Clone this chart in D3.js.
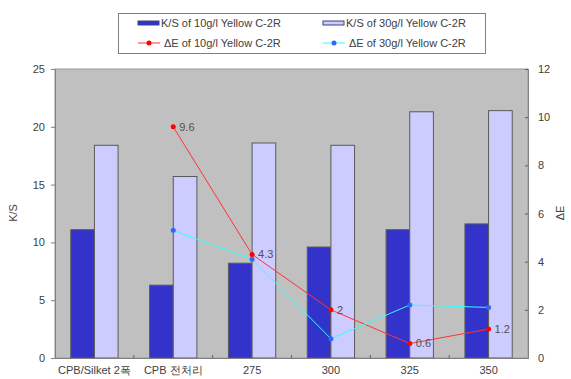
<!DOCTYPE html>
<html>
<head>
<meta charset="utf-8">
<script src="https://cdn.jsdelivr.net/npm/d3@7"></script>
<style>
  html, body { margin: 0; padding: 0; background: #fff; }
  svg { display: block; font-family: "Liberation Sans", Arial, "Noto Sans CJK KR", sans-serif; }
</style>
</head>
<body>
<svg id="chart" width="571" height="379"></svg>
<script>
// Conditions along the x axis
const categories = ["CPB/Silket 2폭", "CPB 전처리", "275", "300", "325", "350"];

// K/S values (left axis)
const ks10 = [11.1, 6.3, 8.2, 9.6, 11.1, 11.6];
const ks30 = [18.4, 15.7, 18.6, 18.4, 21.3, 21.4];

// Colour difference values (right axis); no value for the first condition
const de10 = [null, 9.6, 4.3, 2, 0.6, 1.2];
const de30 = [null, 5.3, 4.1, 0.8, 2.2, 2.1];

const leftTicks = [0, 5, 10, 15, 20, 25];
const rightTicks = [0, 2, 4, 6, 8, 10, 12];

const barSeries = [
  { name: "K/S of 10g/l Yellow C-2R", values: ks10, fill: "#3333cc" },
  { name: "K/S of 30g/l Yellow C-2R", values: ks30, fill: "#ccccff" }
];
const lineSeries = [
  { name: "ΔE of 10g/l Yellow C-2R", values: de10, line: "#ff3333", dot: "#ff0000", labels: true },
  { name: "ΔE of 30g/l Yellow C-2R", values: de30, line: "#33ffff", dot: "#3366ff", labels: false }
];

const svg = d3.select("#chart");
const plot = { left: 55, right: 528, top: 69, bottom: 358 };
const textColor = "#404040";

const x0 = d3.scaleBand().domain(categories).range([plot.left, plot.right]).padding(0);
const groupW = x0.bandwidth() * 0.6;
const x1 = d3.scaleBand().domain(barSeries.map(s => s.name)).range([0, groupW]).padding(0);
const yL = d3.scaleLinear().domain([0, 25]).range([plot.bottom, plot.top]);
const yR = d3.scaleLinear().domain([0, 12]).range([plot.bottom, plot.top]);

// Plot background
svg.append("rect")
  .attr("x", plot.left).attr("y", plot.top)
  .attr("width", plot.right - plot.left).attr("height", plot.bottom - plot.top)
  .attr("fill", "#c0c0c0").attr("stroke", "#9a9a9a").attr("stroke-width", 1);

// Bars
barSeries.forEach(s => {
  svg.append("g").selectAll("rect")
    .data(categories.map((c, i) => ({ c, v: s.values[i] })))
    .join("rect")
    .attr("x", d => x0(d.c) + (x0.bandwidth() - groupW) / 2 + x1(s.name))
    .attr("y", d => yL(d.v))
    .attr("width", x1.bandwidth())
    .attr("height", d => yL(0) - yL(d.v))
    .attr("fill", s.fill)
    .attr("stroke", "#5a5a5a")
    .attr("stroke-width", 1);
});

// Left axis
const axL = svg.append("g").attr("transform", `translate(${plot.left},0)`)
  .call(d3.axisLeft(yL).tickValues(leftTicks).tickSize(4).tickPadding(6));
axL.select(".domain").attr("stroke", "#808080");
axL.selectAll(".tick line").attr("stroke", "#808080");
axL.selectAll("text").attr("fill", textColor).style("font-size", "11px");

// Right axis (ticks point inwards)
const axR = svg.append("g").attr("transform", `translate(${plot.right},0)`)
  .call(d3.axisRight(yR).tickValues(rightTicks).tickSize(-3).tickPadding(10));
axR.select(".domain").attr("stroke", "#808080");
axR.selectAll(".tick line").attr("stroke", "#606060");
axR.selectAll("text").attr("fill", textColor).style("font-size", "11px");

// Bottom axis: labels at band centres, small marks at band boundaries
const axB = svg.append("g").attr("transform", `translate(0,${plot.bottom})`)
  .call(d3.axisBottom(x0).tickSize(0).tickPadding(8));
axB.select(".domain").attr("stroke", "#808080");
axB.selectAll("text").attr("fill", textColor).style("font-size", "11px");
svg.append("g").selectAll("line")
  .data(categories.slice(1))
  .join("line")
  .attr("x1", d => x0(d)).attr("x2", d => x0(d))
  .attr("y1", plot.bottom).attr("y2", plot.bottom - 3)
  .attr("stroke", "#606060");

// Axis titles
svg.append("text")
  .attr("transform", `translate(17,213) rotate(-90)`)
  .attr("text-anchor", "middle").attr("fill", textColor).style("font-size", "11px")
  .text("K/S");
svg.append("text")
  .attr("transform", `translate(564,213) rotate(-90)`)
  .attr("text-anchor", "middle").attr("fill", textColor).style("font-size", "11px")
  .text("ΔE");

// ΔE lines
const cx = c => x0(c) + x0.bandwidth() / 2;
lineSeries.forEach(s => {
  const pts = categories.map((c, i) => ({ c, v: s.values[i] })).filter(d => d.v !== null);
  svg.append("path")
    .datum(pts)
    .attr("fill", "none")
    .attr("stroke", s.line)
    .attr("stroke-width", 1)
    .attr("d", d3.line().x(d => cx(d.c)).y(d => yR(d.v)));
  svg.append("g").selectAll("circle")
    .data(pts)
    .join("circle")
    .attr("cx", d => cx(d.c)).attr("cy", d => yR(d.v))
    .attr("r", 2.5).attr("fill", s.dot);
  if (s.labels) {
    svg.append("g").selectAll("text")
      .data(pts)
      .join("text")
      .attr("x", d => cx(d.c) + 6).attr("y", d => yR(d.v))
      .attr("dy", "0.35em")
      .attr("fill", "#505050").style("font-size", "11px")
      .text(d => d3.format("~g")(d.v));
  }
});

// Legend
const lg = svg.append("g");
lg.append("rect")
  .attr("x", 118.5).attr("y", 13.5).attr("width", 367).attr("height", 40)
  .attr("fill", "#fff").attr("stroke", "#808080");
const colX = [138, 323];
barSeries.forEach((s, i) => {
  lg.append("rect")
    .attr("x", colX[i]).attr("y", 21).attr("width", 21).attr("height", 4)
    .attr("fill", s.fill).attr("stroke", "#404080").attr("stroke-width", 1);
  lg.append("text")
    .attr("x", colX[i] + 23).attr("y", 23).attr("dy", "0.35em")
    .attr("fill", textColor).style("font-size", "11px").text(s.name);
});
lineSeries.forEach((s, i) => {
  lg.append("line")
    .attr("x1", colX[i]).attr("x2", colX[i] + 22).attr("y1", 43).attr("y2", 43)
    .attr("stroke", s.line);
  lg.append("circle")
    .attr("cx", colX[i] + 11).attr("cy", 43).attr("r", 2.5).attr("fill", s.dot);
  lg.append("text")
    .attr("x", colX[i] + 26).attr("y", 43).attr("dy", "0.35em")
    .attr("fill", textColor).style("font-size", "11px").text(s.name);
});
</script>
</body>
</html>
